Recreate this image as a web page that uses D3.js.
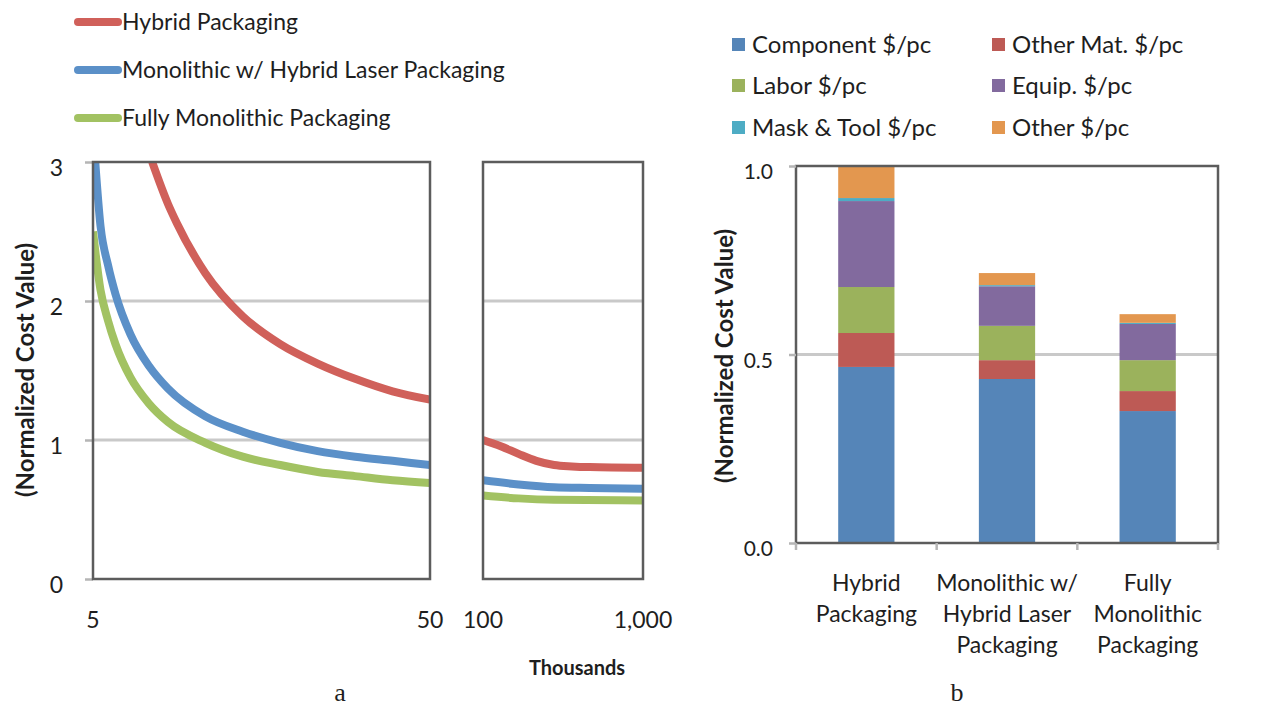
<!DOCTYPE html>
<html lang="en">
<head>
<meta charset="UTF-8">
<title>Cost comparison</title>
<script src="https://d3js.org/d3.v7.min.js"></script>
<style>
    body { margin: 0; background: #fff; }
    svg text { font-family: Lato, "Open Sans", sans-serif; fill: #1e1e1e; }
    .grid { stroke: #c9c9c9; stroke-width: 3; }
    .frame { fill: none; stroke: #5c5c5c; stroke-width: 2.5; }
    .axis path { display: none; }
    .axis line { stroke: #b5b5b5; stroke-width: 2.5; }
    .axis text { font-size: 22px; }
</style>
</head>
<body>
<div id="graph"></div>
<script>
// ---- chart a : normalized cost vs volume (thousands) ----
var seriesNames = ["Hybrid Packaging", "Monolithic w/ Hybrid Laser Packaging", "Fully Monolithic Packaging"];
var lineColors = ["#d0605a", "#5b90c8", "#a2c262"];

// low volume panel, x = 5..50 thousand
var hybridLow = [[12.9, 3.0], [15, 2.7], [16.2, 2.56], [20, 2.2], [25, 1.89], [30, 1.69], [35, 1.55], [40, 1.44], [45, 1.35], [50, 1.29]];
var monoLaserLow = [[5.3, 3.0], [6, 2.54], [7, 2.26], [8, 2.05], [10, 1.76], [12.5, 1.53], [15, 1.37], [20, 1.17], [25, 1.06], [30, 0.98], [35, 0.92], [40, 0.88], [45, 0.85], [50, 0.82]];
var fullyMonoLow = [[5, 2.5], [6, 2.08], [7, 1.86], [8, 1.69], [10, 1.45], [12.5, 1.26], [15, 1.13], [20, 0.98], [25, 0.88], [30, 0.82], [35, 0.77], [40, 0.74], [45, 0.71], [50, 0.69]];

// high volume panel, x = 100..1000 thousand
var hybridHigh = [[100, 1.0], [200, 0.955], [300, 0.9], [400, 0.85], [500, 0.82], [600, 0.81], [700, 0.805], [1000, 0.8]];
var monoLaserHigh = [[100, 0.71], [300, 0.68], [500, 0.66], [700, 0.655], [1000, 0.65]];
var fullyMonoHigh = [[100, 0.6], [300, 0.58], [500, 0.57], [1000, 0.565]];

var yTicksA = [0, 1, 2, 3];
var lowTicks = [5, 50];
var highTicks = [100, 1000];
var highTickLabels = ["100", "1,000"];

// ---- chart b : stacked cost breakdown ----
var categories = [["Hybrid", "Packaging"], ["Monolithic w/", "Hybrid Laser", "Packaging"], ["Fully", "Monolithic", "Packaging"]];
var costNames = ["Component $/pc", "Other Mat. $/pc", "Labor $/pc", "Equip. $/pc", "Mask & Tool $/pc", "Other $/pc"];
var costColors = ["#5585b8", "#bd5a55", "#9bb25c", "#826a9e", "#4eacc4", "#e3974f"];
var component = [0.467, 0.435, 0.35];
var otherMat = [0.09, 0.05, 0.053];
var labor = [0.122, 0.091, 0.082];
var equip = [0.228, 0.105, 0.096];
var maskTool = [0.008, 0.003, 0.003];
var otherCost = [0.085, 0.032, 0.023];
var yTicksB = [0, 0.5, 1.0];

var width = 1264, height = 710;
var svg = d3.select("#graph").append("svg")
    .attr("width", width)
    .attr("height", height);

// scales for chart a
var yA = d3.scaleLinear().domain([0, 3]).range([579, 162]);
var xLow = d3.scaleLinear().domain([5, 50]).range([93, 430]);
var xHigh = d3.scaleLinear().domain([100, 1000]).range([483, 643]);

function panel(xs, ticks, labels, lines, id) {
    var g = svg.append("g");
    var x0 = xs.range()[0], x1 = xs.range()[1];

    svg.append("clipPath").attr("id", id)
        .append("rect")
        .attr("x", x0).attr("y", yA(3))
        .attr("width", x1 - x0).attr("height", yA(0) - yA(3));

    g.selectAll(".grid")
        .data([1, 2])
        .enter().append("line")
        .attr("class", "grid")
        .attr("x1", x0).attr("x2", x1)
        .attr("y1", yA).attr("y2", yA);

    var line = d3.line()
        .x(function (d) { return xs(d[0]); })
        .y(function (d) { return yA(d[1]); })
        .curve(d3.curveMonotoneX);

    g.append("g").attr("clip-path", "url(#" + id + ")")
        .selectAll("path")
        .data(lines)
        .enter().append("path")
        .attr("d", line)
        .attr("fill", "none")
        .attr("stroke", function (d, i) { return lineColors[i]; })
        .attr("stroke-width", 8);

    g.append("rect").attr("class", "frame")
        .attr("x", x0).attr("y", yA(3))
        .attr("width", x1 - x0).attr("height", yA(0) - yA(3));

    g.selectAll(".xlab")
        .data(ticks)
        .enter().append("text")
        .attr("x", xs)
        .attr("y", 620)
        .attr("dy", "0.35em")
        .attr("text-anchor", "middle")
        .style("font-size", "23px")
        .text(function (d, i) { return labels[i]; });
}

// y axis of chart a
svg.append("g")
    .attr("class", "axis")
    .attr("transform", "translate(93,0)")
    .call(d3.axisLeft(yA).tickValues(yTicksA).tickSize(8).tickPadding(22).tickFormat(d3.format("d")))
    .selectAll("text").attr("dy", "0.6em").style("font-size", "23px");

panel(xLow, lowTicks, ["5", "50"], [hybridLow, monoLaserLow, fullyMonoLow], "clipLow");
panel(xHigh, highTicks, highTickLabels, [hybridHigh, monoLaserHigh, fullyMonoHigh], "clipHigh");

svg.append("text")
    .attr("transform", "translate(26,370) rotate(-90)")
    .attr("text-anchor", "middle")
    .attr("dy", "0.35em")
    .style("font-size", "24px")
    .style("font-weight", "bold")
    .text("(Normalized Cost Value)");

svg.append("text")
    .attr("x", 577).attr("y", 668).attr("dy", "0.35em")
    .attr("text-anchor", "middle")
    .style("font-size", "20px")
    .style("font-weight", "bold")
    .text("Thousands");

// legend of chart a
var legA = svg.selectAll(".legA")
    .data(seriesNames)
    .enter().append("g")
    .attr("transform", function (d, i) { return "translate(0," + (22 + i * 48) + ")"; });
legA.append("line")
    .attr("x1", 78).attr("x2", 118)
    .attr("stroke", function (d, i) { return lineColors[i]; })
    .attr("stroke-width", 8)
    .attr("stroke-linecap", "round");
legA.append("text")
    .attr("x", 122).attr("dy", "0.35em")
    .style("font-size", "23px")
    .text(function (d) { return d; });

// ---- chart b ----
var xB = d3.scaleBand()
    .domain(d3.range(categories.length))
    .range([796, 1218])
    .paddingInner(0.6)
    .paddingOuter(0.3);
var yB = d3.scaleLinear().domain([0, 1]).range([543, 166]);

var table = categories.map(function (c, i) {
    return {
        i: i,
        c0: component[i], c1: otherMat[i], c2: labor[i],
        c3: equip[i], c4: maskTool[i], c5: otherCost[i]
    };
});
var stack = d3.stack().keys(["c0", "c1", "c2", "c3", "c4", "c5"])(table);

svg.append("line").attr("class", "grid")
    .attr("x1", 796).attr("x2", 1218)
    .attr("y1", yB(0.5)).attr("y2", yB(0.5));

svg.append("g").selectAll("g")
    .data(stack)
    .enter().append("g")
    .attr("fill", function (d, i) { return costColors[i]; })
    .selectAll("rect")
    .data(function (d) { return d; })
    .enter().append("rect")
    .attr("x", function (d) { return xB(d.data.i); })
    .attr("y", function (d) { return yB(d[1]); })
    .attr("width", xB.bandwidth())
    .attr("height", function (d) { return yB(d[0]) - yB(d[1]); });

svg.append("rect").attr("class", "frame")
    .attr("x", 796).attr("y", yB(1))
    .attr("width", 1218 - 796).attr("height", yB(0) - yB(1));

svg.append("g")
    .attr("class", "axis")
    .attr("transform", "translate(796,0)")
    .call(d3.axisLeft(yB).tickValues(yTicksB).tickSize(7).tickPadding(16).tickFormat(d3.format(".1f")))
    .selectAll("text").attr("dy", "0.6em").style("font-size", "21px");

// category separators below the axis
svg.selectAll(".sep")
    .data(d3.range(categories.length + 1))
    .enter().append("line")
    .attr("x1", function (d) { return 796 + d * xB.step(); })
    .attr("x2", function (d) { return 796 + d * xB.step(); })
    .attr("y1", yB(0)).attr("y2", yB(0) + 7)
    .attr("stroke", "#b5b5b5").attr("stroke-width", 2.5);

var catLab = svg.selectAll(".cat")
    .data(categories)
    .enter().append("text")
    .attr("text-anchor", "middle")
    .style("font-size", "23px");
catLab.selectAll("tspan")
    .data(function (d, i) { return d.map(function (t) { return { t: t, i: i }; }); })
    .enter().append("tspan")
    .attr("x", function (d) { return xB(d.i) + xB.bandwidth() / 2; })
    .attr("y", function (d, k) { return 583 + k * 31; })
    .attr("dy", "0.35em")
    .text(function (d) { return d.t; });

svg.append("text")
    .attr("transform", "translate(725,356) rotate(-90)")
    .attr("text-anchor", "middle")
    .attr("dy", "0.35em")
    .style("font-size", "24px")
    .style("font-weight", "bold")
    .text("(Normalized Cost Value)");

// legend of chart b, two columns
var legB = svg.selectAll(".legB")
    .data(costNames)
    .enter().append("g")
    .attr("transform", function (d, i) {
        return "translate(" + (i % 2 ? 992 : 732) + "," + [45, 86, 128][Math.floor(i / 2)] + ")";
    });
legB.append("rect")
    .attr("x", 0).attr("y", -7)
    .attr("width", 13).attr("height", 13)
    .attr("fill", function (d, i) { return costColors[i]; });
legB.append("text")
    .attr("x", 20).attr("dy", "0.35em")
    .style("font-size", "24px")
    .text(function (d) { return d; });

// panel captions
svg.selectAll(".cap")
    .data([["a", 340], ["b", 957]])
    .enter().append("text")
    .attr("x", function (d) { return d[1]; })
    .attr("y", 692).attr("dy", "0.35em")
    .attr("text-anchor", "middle")
    .style("font-family", "'Liberation Serif', 'DejaVu Serif', serif")
    .style("font-size", "26px")
    .text(function (d) { return d[0]; });
</script>
</body>
</html>
